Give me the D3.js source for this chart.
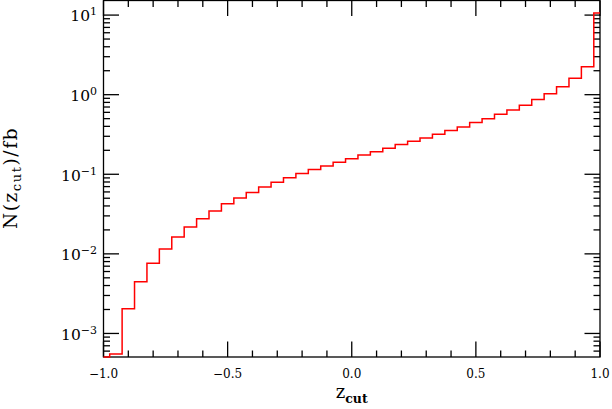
<!DOCTYPE html>
<html><head><meta charset="utf-8">
<script src="https://cdn.jsdelivr.net/npm/d3@7"></script>
<style>body{margin:0;background:#fff}svg{display:block}</style>
</head><body>
<svg id="c" width="612" height="409"></svg>
<script>
// bin centres (width 0.05), first/last half bins at the edges
const binCenters = d3.range(41).map(i => +(-1 + i * 0.05).toFixed(2));
const values = [
  3.0e-4, 5.52e-4, 2.04e-3, 4.46e-3, 7.64e-3, 0.01153, 0.0163, 0.02178, 0.02767, 0.0346,
  0.0426, 0.0503, 0.0592, 0.0692, 0.0794, 0.0904, 0.1023, 0.1146, 0.1271, 0.1413,
  0.1563, 0.1745, 0.1914, 0.2118, 0.236, 0.2597, 0.2853, 0.319, 0.356, 0.392,
  0.446, 0.497, 0.569, 0.641, 0.738, 0.867, 1.03, 1.26, 1.61, 2.24, 10.6
];
const xMajorTicks = [-1.0, -0.5, 0.0, 0.5, 1.0];
const xTickLabels = ["\u22121.0", "\u22120.5", "0.0", "0.5", "1.0"];
const yMajorTicks = [1e-3, 1e-2, 1e-1, 1e0, 1e1];
const yTickExponents = ["\u22123", "\u22122", "\u22121", "0", "1"];

const svg = d3.select("#c");
const L = 103.5, R = 600, T = 0.5, B = 357;
const x = d3.scaleLinear().domain([-1, 1]).range([L, R]);
const y = d3.scaleLog().domain([5.06e-4, 15.25]).range([B, T]).clamp(true);

const serif = "'DejaVu Serif', serif";
const majorLen = 15.5, minorLen = 6.5;
const g = svg.append("g").attr("stroke", "#000").attr("stroke-width", 1.3);

// x ticks (bottom and top)
const xMinor = d3.range(-10, 11).map(i => i / 10);
xMinor.forEach(v => {
  const isMajor = xMajorTicks.some(m => Math.abs(m - v) < 1e-9);
  const len = isMajor ? majorLen : minorLen;
  const px = x(v);
  g.append("line").attr("x1", px).attr("x2", px).attr("y1", B).attr("y2", B - len);
  g.append("line").attr("x1", px).attr("x2", px).attr("y1", T).attr("y2", T + len);
});
// y ticks (left and right)
const yAll = y.ticks(20).filter(v => v >= y.domain()[0] * 0.999 && v <= y.domain()[1]);
yAll.forEach(v => {
  const isMajor = yMajorTicks.some(m => Math.abs(Math.log10(m) - Math.log10(v)) < 1e-6);
  const len = isMajor ? majorLen : minorLen;
  const py = y(v);
  g.append("line").attr("x1", L).attr("x2", L + len).attr("y1", py).attr("y2", py);
  g.append("line").attr("x1", R).attr("x2", R - len).attr("y1", py).attr("y2", py);
});

// frame
svg.append("rect").attr("x", L).attr("y", T).attr("width", R - L).attr("height", B - T)
  .attr("fill", "none").attr("stroke", "#000").attr("stroke-width", 1.3);

// x tick labels
xMajorTicks.forEach((v, i) => {
  svg.append("text").attr("x", x(v)).attr("y", 377.5).attr("text-anchor", "middle")
    .attr("font-family", serif).attr("font-size", 12).attr("fill", "#000").text(xTickLabels[i]);
});
// y tick labels
yMajorTicks.forEach((v, i) => {
  const t = svg.append("text").attr("x", 97).attr("y", y(v) + 6.3).attr("text-anchor", "end")
    .attr("font-family", serif).attr("font-size", 15.5).attr("fill", "#000");
  t.append("tspan").text("10");
  t.append("tspan").attr("dy", -6).attr("font-size", 11).text(yTickExponents[i]);
});

// axis titles
const xt = svg.append("text").attr("x", (L + R) / 2).attr("y", 397.5).attr("text-anchor", "middle")
  .attr("font-family", serif).attr("font-size", 18).attr("fill", "#000");
xt.append("tspan").text("z");
xt.append("tspan").attr("dy", 5).attr("font-size", 12.5).attr("font-weight", "bold").text("cut");

const yt = svg.append("text").attr("transform", "translate(16.5,178) rotate(-90)")
  .attr("text-anchor", "middle").attr("font-family", serif).attr("font-size", 18.5)
  .attr("letter-spacing", 1.6).attr("fill", "#000");
yt.append("tspan").text("N(z");
yt.append("tspan").attr("dy", 4).attr("font-size", 13).text("cut");
yt.append("tspan").attr("dy", -4).text(")/fb");

// histogram
const line = d3.line().x(d => x(d[0])).y(d => y(d[1])).curve(d3.curveStep);
svg.append("path").datum(binCenters.map((c, i) => [c, values[i]]))
  .attr("d", line).attr("fill", "none").attr("stroke", "#ff0000").attr("stroke-width", 1.5);
</script>
</body></html>
